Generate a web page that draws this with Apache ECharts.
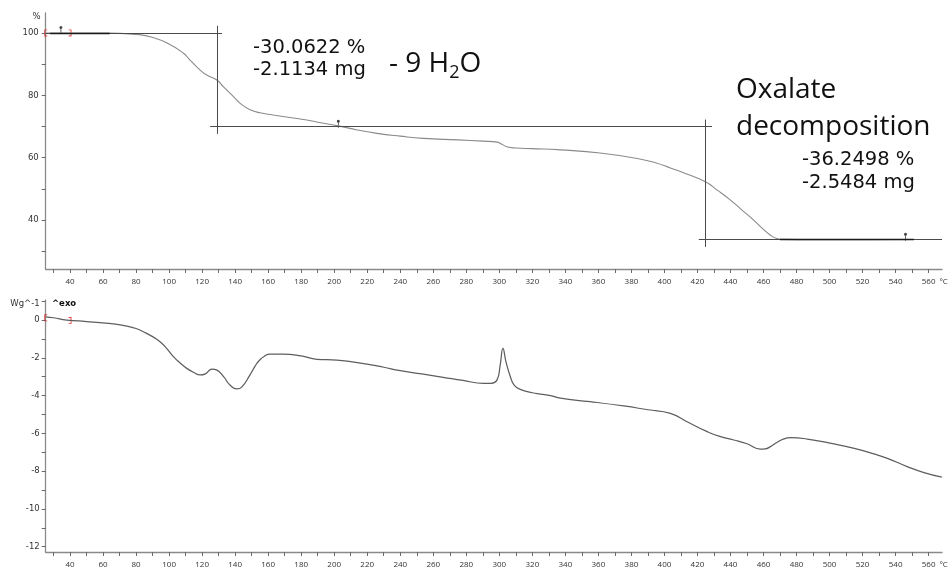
<!DOCTYPE html>
<html>
<head>
<meta charset="utf-8">
<script src="https://cdn.jsdelivr.net/npm/echarts@6/dist/echarts.min.js"></script>
<style>
  html, body { margin: 0; padding: 0; background: #fff; }
  #chart { width: 950px; height: 571px; }
</style>
</head>
<body>
<div id="chart"></div>
<script>
// ---- TGA: mass (%) against temperature (°C) ----
const tgaTemp = [25.3, 35, 50, 60, 70, 82, 88.5, 98.8, 108.7, 112.7, 118.8, 122.8, 128.9, 133, 139, 144, 149, 155, 163, 173, 183.4, 192, 202.5, 214, 225.9, 240, 254, 275, 290, 298.6, 301, 304.6, 310, 320, 337, 361, 385, 395, 403.6, 410, 424.8, 432, 440, 447, 454, 460, 464, 468, 472, 490, 520, 551];
const tgaMass = [100.0, 100.0, 100.0, 99.95, 99.85, 99.45, 98.8, 96.8, 93.5, 91.3, 88.1, 86.5, 84.9, 82.7, 79.6, 77.0, 75.4, 74.4, 73.7, 72.9, 72.1, 71.2, 70.2, 68.9, 67.8, 66.9, 66.2, 65.7, 65.3, 65.0, 64.5, 63.5, 63.1, 62.9, 62.5, 61.5, 59.6, 58.3, 56.7, 55.5, 52.3, 49.6, 46.4, 43.2, 40.0, 37.0, 35.2, 34.1, 33.8, 33.7, 33.7, 33.75];

// ---- DSC: heat flow (W/g) against temperature (°C) ----
const dscTemp = [25.3, 30, 38, 50, 58.2, 66, 74.4, 80, 84.4, 90, 94.5, 98.5, 102.6, 107, 110.7, 115, 118.8, 122, 126, 129, 133, 137, 141, 144, 149, 152, 155, 158, 161, 169, 180, 189.5, 201.6, 210, 219.8, 230, 240, 253, 266, 278, 290.5, 295, 298.6, 300.5, 302.2, 304, 306.7, 309, 312.7, 320, 324.8, 331, 337, 355, 375.3, 390, 403.6, 414, 425.9, 433, 442, 450, 458.2, 461, 464.2, 468.3, 472, 476.4, 486.5, 502.6, 515, 526.9, 535, 547, 557.2, 568];
const dscHeat = [0.17, 0.12, 0.0, -0.08, -0.14, -0.2, -0.32, -0.45, -0.62, -0.88, -1.15, -1.5, -1.94, -2.3, -2.56, -2.78, -2.91, -2.85, -2.6, -2.65, -3.0, -3.45, -3.65, -3.55, -2.9, -2.45, -2.1, -1.9, -1.8, -1.8, -1.9, -2.08, -2.12, -2.2, -2.33, -2.5, -2.68, -2.85, -3.03, -3.2, -3.35, -3.35, -3.17, -2.4, -1.5, -2.2, -3.0, -3.45, -3.67, -3.85, -3.92, -4.0, -4.14, -4.32, -4.55, -4.75, -4.94, -5.4, -5.91, -6.15, -6.35, -6.55, -6.83, -6.82, -6.7, -6.47, -6.3, -6.23, -6.3, -6.56, -6.8, -7.09, -7.32, -7.76, -8.08, -8.32];

// ---- step evaluation (mass losses) ----
const stepStartLevel = 100;
const stepLosses = [30.0622, 36.2498];
const stepLossMg = [2.1134, 2.5484];
const stepTemps = [128.9, 424.8];        // where each step's vertical is drawn
const stepMidMarks = [34.5, 202.5, 546]; // small evaluation markers on each level
const startWindow = [28, 64];            // highlighted baseline before the first step
const endWindow = [470, 551];            // highlighted baseline after the last step

// ---- axes ----
const tempMin = 25.27, tempMax = 568.1;
const tempLabels = [40, 60, 80, 100, 120, 140, 160, 180, 200, 220, 240, 260, 280, 300, 320, 340, 360, 380, 400, 420, 440, 460, 480, 500, 520, 540, 560];
const tempTicks = [30, 40, 50, 60, 70, 80, 90, 100, 110, 120, 130, 140, 150, 160, 170, 180, 190, 200, 210, 220, 230, 240, 250, 260, 270, 280, 290, 300, 310, 320, 330, 340, 350, 360, 370, 380, 390, 400, 410, 420, 430, 440, 450, 460, 470, 480, 490, 500, 510, 520, 530, 540, 550, 560];
const massLabels = [40, 60, 80, 100];
const massTicks = [30, 40, 50, 60, 70, 80, 90, 100];
const heatLabels = [-12, -10, -8, -6, -4, -2, 0, 1];
const heatTicks = [-12, -11, -10, -9, -8, -7, -6, -5, -4, -3, -2, -1, 0, 1];
const integrationLimits = [25.3, 40];

const zip = (a, b) => a.map((v, i) => [v, b[i]]);

// levels after each loss
const levels = [stepStartLevel];
stepLosses.forEach(l => levels.push(levels[levels.length - 1] - l));

// step construction lines: horizontal level lines and vertical step lines
const over = 4, vOver = 2.3;
const stepLines = [];
levels.forEach((lv, i) => {
  const from = i === 0 ? tempMin : stepTemps[i - 1] - over;
  const to = i === levels.length - 1 ? tempMax : stepTemps[i] + (i === 0 ? 3.2 : over);
  stepLines.push([{ coord: [from, lv] }, { coord: [to, lv] }]);
});
stepTemps.forEach((t, i) => {
  stepLines.push([{ coord: [t, levels[i] + vOver] }, { coord: [t, levels[i + 1] - vOver] }]);
});
const boldWindow = { color: '#1a1a1a', width: 1.3 };
stepLines.push([{ coord: [startWindow[0], levels[0]], lineStyle: boldWindow }, { coord: [startWindow[1], levels[0]] }]);
stepLines.push([{ coord: [endWindow[0], levels[2]], lineStyle: boldWindow }, { coord: [endWindow[1], levels[2]] }]);

const axisLineStyle = { color: '#8a8a8a', width: 1.3 };
const tickStyle = { color: '#6a6a6a', width: 1 };
const tempLabelFont = { fontFamily: 'Open Sans', fontSize: 8, color: '#333' };
const valueLabelFont = { fontFamily: 'DejaVu Sans', fontSize: 8.5, color: '#333' };

function tempAxis(gridIndex) {
  return {
    type: 'value', gridIndex, min: tempMin, max: tempMax,
    splitLine: { show: false },
    axisLine: { onZero: false, lineStyle: axisLineStyle },
    axisTick: { customValues: tempTicks, length: 4, lineStyle: tickStyle },
    axisLabel: Object.assign({ customValues: tempLabels, margin: 9 }, tempLabelFont),
    name: '°C', nameLocation: 'end', nameGap: -7,
    nameTextStyle: { fontFamily: 'Open Sans', fontSize: 8, color: '#333', verticalAlign: 'top', padding: [9, 0, 0, 0] }
  };
}

const markerPath = 'path://M1.5,0 A1.5,1.5 0 1 1 1.49,0 Z M1.1,2.5 L1.9,2.5 L1.9,8 L1.1,8 Z';
const openBracket = 'path://M0,0 L3,0 L3,1 L1,1 L1,7 L3,7 L3,8 L0,8 Z';
const closeBracket = 'path://M0,0 L3,0 L3,8 L0,8 L0,7 L2,7 L2,1 L0,1 Z';

const chart = echarts.init(document.getElementById('chart'), null, { renderer: 'canvas' });

chart.setOption({
  animation: false,
  backgroundColor: '#ffffff',
  grid: [
    { left: 45.7, right: 8, top: 13, height: 256 },
    { left: 45.7, right: 8, top: 300, height: 252 }
  ],
  xAxis: [tempAxis(0), tempAxis(1)],
  yAxis: [
    {
      type: 'value', gridIndex: 0, min: 24.3, max: 106.4,
      splitLine: { show: false },
      axisLine: { show: true, onZero: false, lineStyle: axisLineStyle },
      axisTick: { show: true, customValues: massTicks, length: 4, lineStyle: tickStyle },
      axisLabel: Object.assign({ customValues: massLabels, margin: 7 }, valueLabelFont),
      name: '%', nameLocation: 'end', nameGap: 1,
      nameTextStyle: { fontFamily: 'DejaVu Sans', fontSize: 8.5, color: '#333', align: 'right', verticalAlign: 'top', padding: [0, 5, 0, 0] }
    },
    {
      type: 'value', gridIndex: 1, min: -12.28, max: 1.06,
      splitLine: { show: false },
      axisLine: { show: true, onZero: false, lineStyle: axisLineStyle },
      axisTick: { show: true, customValues: heatTicks, length: 4, lineStyle: tickStyle },
      axisLabel: Object.assign({
        customValues: heatLabels, margin: 6,
        formatter: v => (v === 1 ? '{u|Wg^-1}' : String(v)),
        rich: { u: { fontFamily: 'DejaVu Sans', fontSize: 8.5, color: '#333', padding: [5, 0, 0, 0] } }
      }, valueLabelFont)
    }
  ],
  series: [
    {
      name: 'TGA', type: 'line', xAxisIndex: 0, yAxisIndex: 0,
      data: zip(tgaTemp, tgaMass), smooth: 0.5,
      showSymbol: false, silent: true,
      lineStyle: { color: '#8a8a8a', width: 1.1 },
      markLine: {
        silent: true, symbol: 'none', label: { show: false },
        lineStyle: { color: '#4a4a4a', width: 1, type: 'solid' },
        data: stepLines
      }
    },
    {
      name: 'TGA marks', type: 'scatter', xAxisIndex: 0, yAxisIndex: 0, silent: true,
      data: stepMidMarks.map((t, i) => [t, levels[i]]),
      symbol: markerPath, symbolSize: [3, 8], symbolOffset: [0, -3],
      itemStyle: { color: '#111' }
    },
    {
      name: 'TGA limits', type: 'scatter', xAxisIndex: 0, yAxisIndex: 0, silent: true,
      data: [
        { value: [integrationLimits[0], tgaMass[0]], symbol: openBracket },
        { value: [integrationLimits[1], tgaMass[0]], symbol: closeBracket }
      ],
      symbolSize: [3, 7], itemStyle: { color: '#e02020' }
    },
    {
      name: 'DSC', type: 'line', xAxisIndex: 1, yAxisIndex: 1,
      data: zip(dscTemp, dscHeat), smooth: 0.5,
      showSymbol: false, silent: true,
      lineStyle: { color: '#5e5e5e', width: 1.25 }
    },
    {
      name: 'DSC limits', type: 'scatter', xAxisIndex: 1, yAxisIndex: 1, silent: true,
      data: [
        { value: [integrationLimits[0], dscHeat[0] - 0.05], symbol: openBracket },
        { value: [integrationLimits[1], dscHeat[2] - 0.03], symbol: closeBracket }
      ],
      symbolSize: [3, 7], itemStyle: { color: '#e02020' }
    }
  ],
  graphic: [
    {
      type: 'text', left: 52, top: 299,
      style: { text: '^exo', font: 'bold 8.5px "DejaVu Sans"', fill: '#111' }
    },
    {
      type: 'text', x: 253, y: 36.5,
      style: {
        text: '-' + stepLosses[0].toFixed(4) + ' %\n-' + stepLossMg[0].toFixed(4) + ' mg',
        font: '19.5px "DejaVu Sans"', lineHeight: 22, fill: '#111',
        textVerticalAlign: 'top'
      }
    },
    {
      type: 'text', x: 389, y: 46,
      style: {
        text: '{m|- 9 H}{s|2}{m|O}',
        rich: {
          m: { fontFamily: 'Open Sans', fontSize: 28, lineHeight: 36, fill: '#111', color: '#111' },
          s: { fontFamily: 'Open Sans', fontSize: 18, lineHeight: 18, verticalAlign: 'bottom', fill: '#111', color: '#111' }
        },
        textVerticalAlign: 'top'
      }
    },
    {
      type: 'text', x: 736, y: 71,
      style: {
        text: 'Oxalate\ndecomposition',
        font: '28px "Open Sans"', lineHeight: 37.5, fill: '#111',
        textVerticalAlign: 'top'
      }
    },
    {
      type: 'text', x: 802, y: 149,
      style: {
        text: '-' + stepLosses[1].toFixed(4) + ' %\n-' + stepLossMg[1].toFixed(4) + ' mg',
        font: '19.5px "DejaVu Sans"', lineHeight: 22.5, fill: '#111',
        textVerticalAlign: 'top'
      }
    }
  ]
});
</script>
</body>
</html>
